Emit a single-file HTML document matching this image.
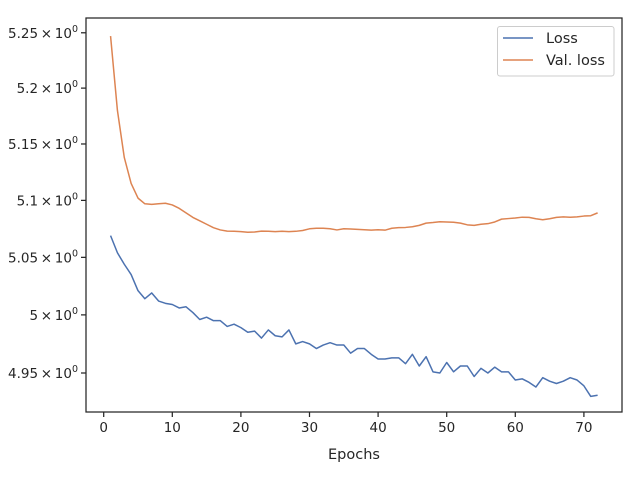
<!DOCTYPE html>
<html><head><meta charset="utf-8"><style>
body{margin:0;background:#fff;}
svg text{font-family:"DejaVu Sans","Liberation Sans",sans-serif;fill:#262626;}
</style></head><body>
<svg id="chart" width="640" height="480" xmlns="http://www.w3.org/2000/svg">
<rect width="640" height="480" fill="#fff"/>
<g id="plot"></g>
</svg>
<script>
const epochs = Array.from({length:72},(_,i)=>i+1);
const lossValues = [5.069,5.054,5.044,5.035,5.021,5.014,5.019,5.012,5.010,5.009,5.006,5.007,5.002,4.996,4.998,4.995,4.995,4.990,4.992,4.989,4.985,4.986,4.980,4.987,4.982,4.981,4.987,4.975,4.977,4.975,4.971,4.974,4.976,4.974,4.974,4.967,4.971,4.971,4.966,4.962,4.962,4.963,4.963,4.958,4.966,4.956,4.964,4.951,4.950,4.959,4.951,4.956,4.956,4.947,4.954,4.950,4.955,4.951,4.951,4.944,4.945,4.942,4.938,4.946,4.943,4.941,4.943,4.946,4.944,4.939,4.930,4.931];
const valLossValues = [5.247,5.18,5.138,5.115,5.102,5.097,5.0965,5.097,5.0975,5.096,5.093,5.089,5.085,5.082,5.079,5.076,5.074,5.073,5.0728,5.0725,5.072,5.0722,5.073,5.0728,5.0725,5.0728,5.0725,5.0728,5.0735,5.075,5.0755,5.0755,5.075,5.074,5.075,5.0748,5.0745,5.0742,5.0738,5.0742,5.0738,5.0755,5.076,5.0762,5.0768,5.078,5.080,5.0805,5.0812,5.081,5.0808,5.080,5.0785,5.078,5.079,5.0795,5.081,5.0835,5.084,5.0845,5.0852,5.085,5.0838,5.083,5.0838,5.085,5.0855,5.0852,5.0855,5.0862,5.0865,5.089];
const xTicks = [0,10,20,30,40,50,60,70];
const yTicks = [4.95,5.0,5.05,5.1,5.15,5.2,5.25];
const yTickLabels = ["4.95","5","5.05","5.1","5.15","5.2","5.25"];

const L=86,R=622,T=18,B=412;
const xs=v=>103.7+v*6.86;
const ys=v=>373-(Math.log(v)-Math.log(4.95))*5782;
const NS="http://www.w3.org/2000/svg";
const g=document.getElementById('plot');
function mk(tag,attrs,parent){const e=document.createElementNS(NS,tag);for(const k in attrs)e.setAttribute(k,attrs[k]);(parent||g).appendChild(e);return e;}

function series(vals,color,name){
  const d=vals.map((v,i)=>(i?'L':'M')+xs(epochs[i]).toFixed(2)+','+ys(v).toFixed(2)).join('');
  const p=mk('path',{d:d,fill:'none',stroke:color,'stroke-width':1.5,'stroke-linejoin':'round'});
  
  
}
series(lossValues,'#4c72b0','loss-line');
series(valLossValues,'#dd8452','val-loss-line');

const frame=mk('rect',{x:L,y:T,width:R-L,height:B-T,fill:'none',stroke:'#262626','stroke-width':1.25});



xTicks.forEach(t=>{
  const x=xs(t);
  mk('line',{x1:x,x2:x,y1:B,y2:B+5,stroke:'#262626','stroke-width':1.25});
  const tx=mk('text',{x:x,y:B+20,'text-anchor':'middle','font-size':13.5});
  tx.textContent=t;
  
  
});
yTicks.forEach((t,i)=>{
  const y=ys(t);
  mk('line',{x1:L-5,x2:L,y1:y,y2:y,stroke:'#262626','stroke-width':1.25});
  const tx=mk('text',{x:L-8,y:y+5,'text-anchor':'end','font-size':13.5});
  tx.innerHTML=yTickLabels[i]+'\u2009\u00d7\u200910<tspan dy="-6" font-size="9.5">0</tspan>';
  
  
});
const xl=mk('text',{x:354,y:459,'text-anchor':'middle','font-size':14.5});
xl.textContent='Epochs';



const lg=mk('g',{});


mk('rect',{x:497.5,y:26.5,width:116.5,height:49.5,rx:2.5,fill:'#fff','fill-opacity':0.8,stroke:'#ccc','stroke-width':1},lg);
[['Loss','#4c72b0',38],['Val. loss','#dd8452',60]].forEach(([lab,c,y])=>{
  mk('line',{x1:503,x2:533,y1:y,y2:y,stroke:c,'stroke-width':1.5},lg);
  const t=mk('text',{x:546,y:y+5,'font-size':14.5},lg);
  t.textContent=lab;
  
  
});
</script>
</body></html>
